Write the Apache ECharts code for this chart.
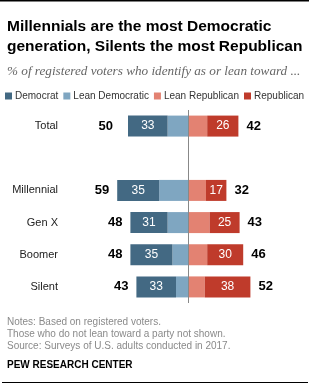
<meta charset="utf-8" />
<script src="https://cdn.jsdelivr.net/npm/echarts@6/dist/echarts.min.js"></script>
<style>
  html, body { margin: 0; padding: 0; background: #fff; }
  #main { width: 309px; height: 386px; }
</style>
<div id="main"></div>
<script type="text/javascript">
// 数据
var groups = ['Total', '', 'Millennial', 'Gen X', 'Boomer', 'Silent'];
var democrat = [33, null, 35, 31, 35, 33];
var leanDem = [17, null, 24, 17, 13, 10];
var leanRep = [16, null, 15, 18, 16, 14];
var republican = [26, null, 17, 25, 30, 38];
var demTotal = [50, null, 59, 48, 48, 43];
var repTotal = [42, null, 32, 43, 46, 52];

var font = '"Liberation Sans", Arial, sans-serif';
var neg = function (arr) { return arr.map(function (v) { return v == null ? null : -v; }); };

var myChart = echarts.init(document.getElementById('main'));

var option = {
    animation: false,
    textStyle: { fontFamily: font },
    title: [
        {
            text: 'Millennials are the most Democratic\ngeneration, Silents the most Republican',
            left: 2, top: 12,
            textStyle: { fontFamily: font, fontWeight: 'bold', fontSize: 15.5, lineHeight: 20, color: '#000' }
        },
        {
            text: '% of registered voters who identify as or lean toward ...',
            left: 2, top: 60,
            textStyle: { fontFamily: '"Liberation Serif", serif', fontStyle: 'italic', fontWeight: 'normal', fontSize: 13.2, color: '#666' }
        },
        {
            text: 'Notes: Based on registered voters.\nThose who do not lean toward a party not shown.\nSource: Surveys of U.S. adults conducted in 2017.',
            left: 2, top: 311,
            textStyle: { fontFamily: font, fontWeight: 'normal', fontSize: 10, lineHeight: 12, color: '#8a8a8a' }
        },
        {
            text: 'PEW RESEARCH CENTER',
            left: 2, top: 355,
            textStyle: { fontFamily: font, fontWeight: 'bold', fontSize: 10, color: '#000' }
        }
    ],
    graphic: [
        { type: 'rect', shape: { x: 0, y: 0, width: 309, height: 1.5 }, style: { fill: '#000' } },
        { type: 'rect', shape: { x: 2, y: 382, width: 306, height: 1 }, style: { fill: '#000' } }
    ],
    legend: {
        data: ['Democrat', 'Lean Democratic', 'Lean Republican', 'Republican'],
        left: 5, top: 91, width: 320, padding: 0,
        icon: 'rect', itemWidth: 7, itemHeight: 7, itemGap: 5,
        textStyle: { fontFamily: font, fontSize: 10, color: '#333', padding: [0, 0, 0, -2] },
        selectedMode: false
    },
    grid: { left: 104, right: 37, top: 110, height: 193 },
    xAxis: { type: 'value', min: -70, max: 70, show: false },
    yAxis: {
        type: 'category',
        data: groups,
        inverse: true,
        axisLine: { show: false },
        axisTick: { show: false },
        axisLabel: { margin: 46, fontSize: 11, color: '#222', fontFamily: font }
    },
    series: [
        {
            name: 'Lean Democratic', type: 'bar', stack: 'a', barWidth: 21, barGap: '-100%',
            data: neg(leanDem), itemStyle: { color: '#7fa6c1' },
            markLine: {
                silent: true, symbol: 'none', label: { show: false },
                lineStyle: { color: '#888', width: 1, type: 'solid' },
                data: [{ xAxis: 0 }]
            }
        },
        {
            name: 'Democrat', type: 'bar', stack: 'a', barWidth: 21, barGap: '-100%',
            data: neg(democrat), itemStyle: { color: '#436983' },
            label: { show: true, position: 'inside', color: '#fff', fontSize: 12,
                formatter: function (p) { return Math.abs(p.value); } }
        },
        {
            name: 'Lean Republican', type: 'bar', stack: 'a', barWidth: 21, barGap: '-100%',
            data: leanRep, itemStyle: { color: '#e38272' }
        },
        {
            name: 'Republican', type: 'bar', stack: 'a', barWidth: 21, barGap: '-100%',
            data: republican, itemStyle: { color: '#bf3b2b' },
            label: { show: true, position: 'inside', color: '#fff', fontSize: 12 }
        },
        {
            name: 'demTotal', type: 'bar', barWidth: 21, barGap: '-100%',
            data: demTotal.map(function (v, i) {
                return v == null ? null : { value: -v, label: { distance: i === 0 ? 15 : 8 } };
            }),
            itemStyle: { color: 'transparent' }, silent: true,
            label: { show: true, position: 'left', color: '#000', fontWeight: 'bold', fontSize: 13,
                formatter: function (p) { return Math.abs(p.value); } }
        },
        {
            name: 'repTotal', type: 'bar', barWidth: 21, barGap: '-100%',
            data: repTotal,
            itemStyle: { color: 'transparent' }, silent: true,
            label: { show: true, position: 'right', distance: 8, color: '#000', fontWeight: 'bold', fontSize: 13 }
        }
    ]
};
myChart.setOption(option);
</script>
